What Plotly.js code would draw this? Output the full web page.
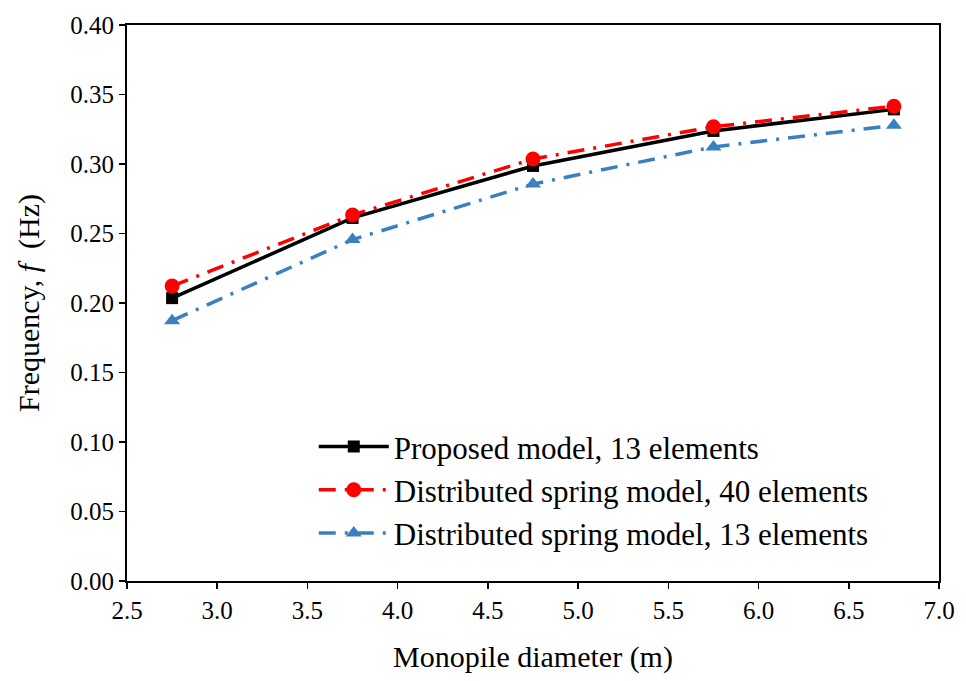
<!DOCTYPE html>
<html>
<head>
<meta charset="utf-8">
<script src="https://cdn.plot.ly/plotly-3.0.1.min.js"></script>
<style>html,body{margin:0;padding:0;background:#fff;}#chart{width:966px;height:681px;}</style>
</head>
<body>
<div id="chart"></div>
<script>
const diameters = [2.75, 3.75, 4.75, 5.75, 6.75];
const proposed13 = [0.2035, 0.2612, 0.2986, 0.3238, 0.3393];
const spring40 = [0.2122, 0.2633, 0.3036, 0.3268, 0.3416];
const spring13 = [0.1873, 0.2456, 0.2856, 0.3123, 0.3278];
const seriesNames = ["Proposed model, 13 elements", "Distributed spring model, 40 elements", "Distributed spring model, 13 elements"];
const xTicks = [2.5, 3.0, 3.5, 4.0, 4.5, 5.0, 5.5, 6.0, 6.5, 7.0];
const yTicks = [0.00, 0.05, 0.10, 0.15, 0.20, 0.25, 0.30, 0.35, 0.40];

const font = "Liberation Serif, Times New Roman, serif";
const dashDot = "17px,9px,3px,9px";
const traces = [
  {x: diameters, y: proposed13, name: seriesNames[0], mode: "lines+markers",
   line: {color: "#000000", width: 3.5, dash: "solid"},
   marker: {symbol: "square", size: 12, color: "#000000"}},
  {x: diameters, y: spring40, name: seriesNames[1], mode: "lines+markers",
   line: {color: "#ff0000", width: 3.5, dash: dashDot},
   marker: {symbol: "circle", size: 15, color: "#ff0000"}},
  {x: diameters, y: spring13, name: seriesNames[2], mode: "lines+markers",
   line: {color: "#3a80c1", width: 3.5, dash: dashDot},
   marker: {symbol: "triangle-up", size: 14, color: "#3a80c1"}}
];
const axisCommon = {
  showline: true, mirror: true, linecolor: "#000", linewidth: 2,
  ticks: "outside", ticklen: 6, tickwidth: 1.5, tickcolor: "#000",
  showgrid: false, zeroline: false,
  tickfont: {family: font, size: 25, color: "#000"}
};
const layout = {
  width: 966, height: 681,
  margin: {l: 127, r: 27, t: 25, b: 100},
  paper_bgcolor: "#fff", plot_bgcolor: "#fff",
  showlegend: true,
  xaxis: Object.assign({}, axisCommon, {
    range: [2.5, 7.0], tickvals: xTicks, ticktext: xTicks.map(v => v.toFixed(1)),
    title: {text: "Monopile diameter (m)", font: {family: font, size: 30, color: "#000"}, standoff: 23}
  }),
  yaxis: Object.assign({}, axisCommon, {
    range: [0, 0.40], tickvals: yTicks, ticktext: yTicks.map(v => v.toFixed(2)),
    title: {text: "Frequency, <i>f</i>  (Hz)", font: {family: font, size: 30, color: "#000"}, standoff: 22}
  }),
  legend: {
    x: 0.23, y: 0.29, xanchor: "left", yanchor: "top",
    bgcolor: "rgba(255,255,255,0)", borderwidth: 0,
    font: {family: font, size: 31, color: "#000"},
    itemwidth: 70, tracegroupgap: 0
  }
};
Plotly.newPlot("chart", traces, layout, {displayModeBar: false, staticPlot: true});
</script>
</body>
</html>
